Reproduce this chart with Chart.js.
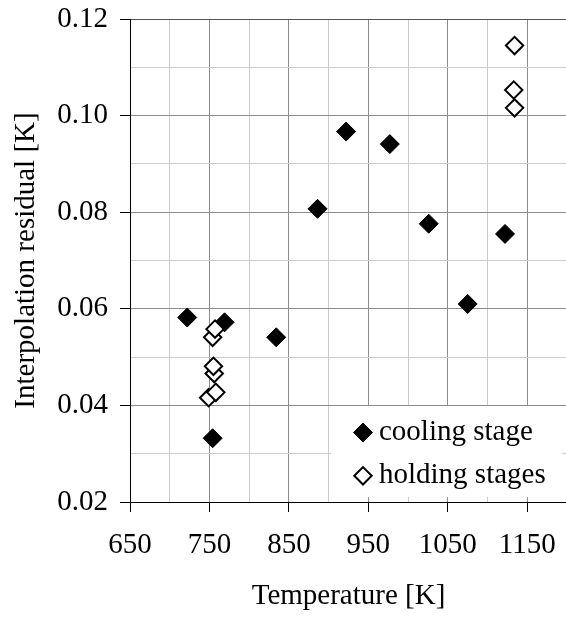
<!DOCTYPE html>
<html>
<head>
<meta charset="utf-8" />
<script src="https://cdn.jsdelivr.net/npm/chart.js@4/dist/chart.umd.min.js"></script>
<style>
  html,
  body {
    margin: 0;
    padding: 0;
    overflow: hidden;
    background: #fff;
  }
</style>
</head>
<body>
<canvas id="residualChart" width="568" height="618"></canvas>
<script>
// cooling stage points
const coolingTemp = [722, 754, 769, 834, 886, 922, 977, 1026, 1075, 1122];
const coolingResidual = [0.0582, 0.0332, 0.0572, 0.0541, 0.0807, 0.0967, 0.0941, 0.0776, 0.061, 0.0755];

// holding stages points
const holdingTemp = [749, 758, 756, 755, 754, 757, 1134, 1133, 1134];
const holdingResidual = [0.0416, 0.0427, 0.0466, 0.0481, 0.0541, 0.0558, 0.1016, 0.1053, 0.1145];

const xTickLabels = [650, 750, 850, 950, 1050, 1150];
const yTickLabels = [0.02, 0.04, 0.06, 0.08, 0.1, 0.12];
const legendLabels = ["cooling stage", "holding stages"];

const SERIF = "'Liberation Serif', 'Times New Roman', serif";
const FONT_SIZE = 29;

Chart.defaults.font.family = SERIF;
Chart.defaults.font.size = FONT_SIZE;
Chart.defaults.color = "#000";

function toPoints(xs, ys) {
  return xs.map((x, i) => ({ x: x, y: ys[i] }));
}

const isXMajor = (v) => xTickLabels.includes(Math.round(v));
const isYMajor = (v) => yTickLabels.some((t) => Math.abs(t - v) < 1e-6);

// no extra room for edge labels, the plot fills the frame
function noEdgePadding(scale) {
  scale.paddingLeft = 0;
  scale.paddingRight = 0;
  scale.paddingTop = 0;
  scale.paddingBottom = 0;
}

const coolingStyle = {
  pointStyle: "rectRot",
  radius: 9.5,
  borderWidth: 1,
  borderColor: "#000",
  backgroundColor: "#000",
};
const holdingStyle = {
  pointStyle: "rectRot",
  radius: 8.7,
  borderWidth: 2,
  borderColor: "#000",
  backgroundColor: "#fff",
};

// legend box sitting inside the plot, bottom right
const boxLegend = {
  id: "boxLegend",
  beforeDatasetsDraw(chart) {
    const { ctx, chartArea } = chart;
    const left = chartArea.left + 201;
    const top = chartArea.bottom - 96;

    ctx.save();
    ctx.fillStyle = "#fff";
    ctx.fillRect(left, top, 231, 91);

    [coolingStyle, holdingStyle].forEach((style, i) => {
      const cy = top + 26.5 + i * 43.3;
      ctx.fillStyle = style.backgroundColor;
      ctx.strokeStyle = style.borderColor;
      ctx.lineWidth = style.borderWidth;
      Chart.helpers.drawPoint(
        ctx,
        { pointStyle: style.pointStyle, radius: style.radius, rotation: 0, borderWidth: style.borderWidth },
        left + 32,
        cy
      );
      ctx.fillStyle = "#000";
      ctx.font = FONT_SIZE + "px " + SERIF;
      ctx.textAlign = "left";
      ctx.textBaseline = "alphabetic";
      ctx.fillText(legendLabels[i], left + 48, cy + 7.5);
    });
    ctx.restore();
  },
};

new Chart(document.getElementById("residualChart"), {
  type: "scatter",
  data: {
    datasets: [
      {
        label: legendLabels[1],
        data: toPoints(holdingTemp, holdingResidual),
        pointStyle: holdingStyle.pointStyle,
        pointRadius: holdingStyle.radius,
        pointHoverRadius: holdingStyle.radius,
        pointBorderWidth: holdingStyle.borderWidth,
        borderColor: holdingStyle.borderColor,
        backgroundColor: holdingStyle.backgroundColor,
      },
      {
        label: legendLabels[0],
        data: toPoints(coolingTemp, coolingResidual),
        pointStyle: coolingStyle.pointStyle,
        pointRadius: coolingStyle.radius,
        pointHoverRadius: coolingStyle.radius,
        pointBorderWidth: coolingStyle.borderWidth,
        borderColor: coolingStyle.borderColor,
        backgroundColor: coolingStyle.backgroundColor,
      },
    ],
  },
  options: {
    responsive: false,
    animation: false,
    events: [],
    layout: { autoPadding: false, padding: { top: 19, right: 1, left: 0, bottom: 0 } },
    plugins: {
      legend: { display: false },
      tooltip: { enabled: false },
    },
    scales: {
      x: {
        type: "linear",
        min: 650,
        max: 1200,
        afterFit: (scale) => {
          scale.height = 116;
          noEdgePadding(scale);
        },
        ticks: {
          stepSize: 50,
          autoSkip: false,
          maxRotation: 0,
          padding: 16,
          callback: (v) => (isXMajor(v) ? String(Math.round(v)) : ""),
        },
        grid: {
          color: (ctx) => (isXMajor(ctx.tick.value) ? "#8c8c8c" : "#cccccc"),
          tickColor: (ctx) => (isXMajor(ctx.tick.value) ? "#000" : "rgba(0,0,0,0)"),
          tickLength: 10,
        },
        border: { color: "#000", width: 1 },
        title: {
          display: true,
          text: "Temperature [K]",
          padding: { top: 0, bottom: 4 },
        },
      },
      y: {
        type: "linear",
        min: 0.02,
        max: 0.12,
        afterFit: (scale) => {
          scale.width = 130;
          noEdgePadding(scale);
        },
        ticks: {
          stepSize: 0.01,
          autoSkip: false,
          padding: 12,
          callback: (v) => (isYMajor(v) ? v.toFixed(2) : ""),
        },
        grid: {
          color: (ctx) => {
            if (Math.abs(ctx.tick.value - 0.12) < 1e-6) return "#555";
            return isYMajor(ctx.tick.value) ? "#8c8c8c" : "#cccccc";
          },
          tickColor: (ctx) => (isYMajor(ctx.tick.value) ? "#000" : "rgba(0,0,0,0)"),
          tickLength: 10,
        },
        border: { color: "#000", width: 1 },
        title: {
          display: true,
          text: "Interpolation residual [K]",
          padding: { top: 9, bottom: 0 },
        },
      },
    },
  },
  plugins: [boxLegend],
});
</script>
</body>
</html>
